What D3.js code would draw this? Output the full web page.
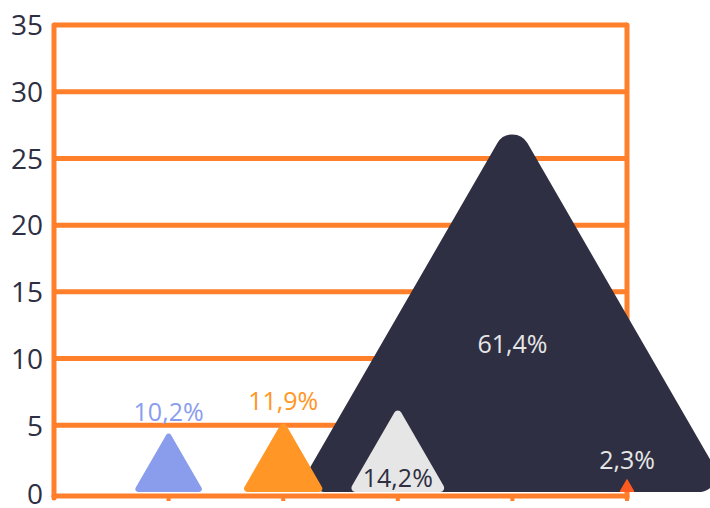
<!DOCTYPE html>
<html>
<head>
<meta charset="utf-8">
<script src="https://cdn.jsdelivr.net/npm/d3@7/dist/d3.min.js"></script>
<style>
  html, body { margin: 0; padding: 0; background: #ffffff; }
  svg { display: block; font-family: "Open Sans", sans-serif; }
</style>
</head>
<body>
<div id="chart"></div>
<script>
/*
 * Data
 *****************************/
const categories = ["A", "B", "C", "D", "E"];
const heights = [4.6, 5.4, 6.4, 28.1, 1.0];
const labels = ["10,2%", "11,9%", "14,2%", "61,4%", "2,3%"];
const colors = ["#8a9ded", "#ff9626", "#e6e6e6", "#2e2f42", "#ff5a1f"];
const labelColors = ["#8a9ded", "#ff9626", "#2e2f42", "#e6e6e6", "#e6e6e6"];
const labelPos = ["top", "top", "insideBottom", "inside", "top"];
const yTicks = [0, 5, 10, 15, 20, 25, 30, 35];

/*
 * Parameters
 *****************************/
const W = 710, H = 508;
const plotLeft = 54, plotRight = 627, plotTop = 25, plotBottom = 492;
const gridColor = "#ff7f2a";
const textColor = "#2e2f42";

const svg = d3.select("#chart").append("svg")
  .attr("width", W)
  .attr("height", H);

// category i sits at i+1 on a 0..5 linear axis
const x = d3.scaleLinear().domain([0, categories.length]).range([plotLeft, plotRight]);
const y = d3.scaleLinear().domain([0, 35]).range([plotBottom, plotTop]);

// gridlines (0 is drawn as the x axis line, a bit lower)
svg.append("g").selectAll("line")
  .data(yTicks.filter(t => t > 0))
  .enter().append("line")
  .attr("x1", plotLeft).attr("x2", plotRight)
  .attr("y1", d => y(d)).attr("y2", d => y(d))
  .attr("stroke", gridColor).attr("stroke-width", 5);

const baseY = y(0) + 4;
svg.append("line")
  .attr("x1", plotLeft).attr("x2", plotRight)
  .attr("y1", baseY).attr("y2", baseY)
  .attr("stroke", gridColor).attr("stroke-width", 5)
  .attr("stroke-linecap", "round");

// vertical borders
[plotLeft, plotRight].forEach(px => {
  svg.append("line")
    .attr("x1", px).attr("x2", px)
    .attr("y1", y(35)).attr("y2", baseY + 2)
    .attr("stroke", gridColor).attr("stroke-width", 5)
    .attr("stroke-linecap", "round");
});

// small ticks under the baseline
svg.append("g").selectAll("line")
  .data(categories)
  .enter().append("line")
  .attr("x1", (d, i) => x(i + 1)).attr("x2", (d, i) => x(i + 1))
  .attr("y1", baseY).attr("y2", baseY + 5)
  .attr("stroke", gridColor).attr("stroke-width", 4);

// y axis labels
const yAxis = d3.axisLeft(y).tickValues(yTicks).tickSize(0).tickPadding(0);
const yAxisG = svg.append("g")
  .attr("transform", "translate(43,0)")
  .call(yAxis);
yAxisG.select(".domain").remove();
yAxisG.selectAll("text")
  .attr("fill", textColor)
  .style("font-size", "28px")
  .style("font-family", "'Open Sans', sans-serif")
  .attr("dy", "0.35em")
  .attr("transform", d => d === 0 ? "translate(0,2)" : null);

// rounded equilateral triangle
function triPath(cx, h) {
  const yA = y(h), yB = y(0);
  const px = yB - yA;
  const half = px / Math.sqrt(3);
  const r = (2 * half) * 0.04;
  const p = d3.path();
  p.moveTo(cx, yB);
  p.arcTo(cx + half, yB, cx, yA, r);
  p.arcTo(cx, yA, cx - half, yB, r);
  p.arcTo(cx - half, yB, cx + half, yB, r);
  p.closePath();
  return p.toString();
}

const items = categories.map((c, i) => ({ i, c, h: heights[i] }))
  .sort((a, b) => b.h - a.h);

svg.append("g").selectAll("path")
  .data(items)
  .enter().append("path")
  .attr("d", d => triPath(x(d.i + 1), d.h))
  .attr("fill", d => colors[d.i]);

// labels
svg.append("g").selectAll("text")
  .data(items)
  .enter().append("text")
  .attr("x", d => x(d.i + 1))
  .attr("y", d => {
    const pos = labelPos[d.i];
    if (pos === "top") return y(d.h) - 10;
    if (pos === "insideBottom") return y(0) - 5;
    return y(d.h * 0.4) + 11;
  })
  .attr("text-anchor", "middle")
  .attr("fill", d => labelColors[d.i])
  .style("font-size", "25px")
  .style("font-weight", 500)
  .text(d => labels[d.i]);
</script>
</body>
</html>
